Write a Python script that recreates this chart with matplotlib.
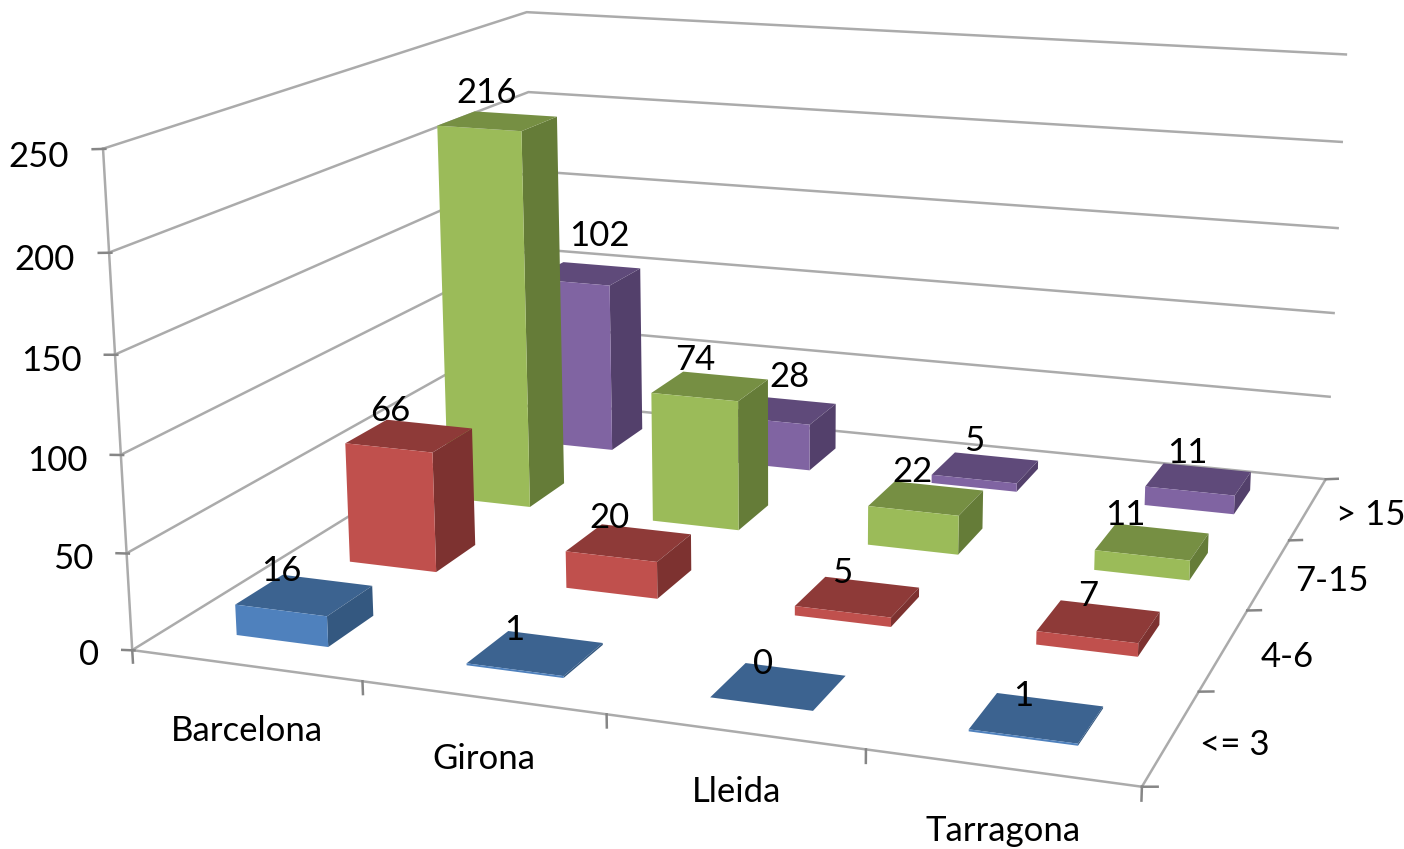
import numpy as np
import matplotlib
matplotlib.use("Agg")
import matplotlib.pyplot as plt
from mpl_toolkits.mplot3d import proj3d

plt.rcParams['font.family'] = ['Lato', 'DejaVu Sans']

regions = ["Barcelona", "Girona", "Lleida", "Tarragona"]
groups = ["<= 3", "4-6", "7-15", "> 15"]
le3 = [16, 1, 0, 1]
g4_6 = [66, 20, 5, 7]
g7_15 = [216, 74, 22, 11]
gt15 = [102, 28, 5, 11]
z_ticks = [0, 50, 100, 150, 200, 250]

W, H = 1404, 849
fig = plt.figure(figsize=(W / 100, H / 100), dpi=100)
# camera fitted against the box corners of the reference
ax = fig.add_axes([80.4 / W, -183.1 / H, 1363.6 / W, 1363.6 / H], projection='3d')
ax.set_axis_off()
ax.set_xlim(0, 4)
ax.set_ylim(0, 4)
ax.set_zlim(0, 250)
ax.computed_zorder = False
ax.view_init(elev=14.3006, azim=-70.3793, roll=0.0241)
ax.set_proj_type('persp', focal_length=0.399)
ax.set_box_aspect((2.0187, 1.9208, 1))
M = ax.get_proj()


def put(x, y, z, s, dx=0, dy=0, **kw):
    # text at a 3d point, nudged in pixels (dy is downwards)
    u, v, _ = proj3d.proj_transform(x, y, z, M)
    ax.annotate(s, (u, v), xytext=(dx * 0.72, -dy * 0.72), textcoords='offset points',
                annotation_clip=False, fontsize=25, color='black', zorder=100, **kw)


# walls and floor
grid = '#ababab'
tick = '#868686'
for z in z_ticks:
    if z > 0:
        ax.plot([0, 0, 4], [0, 4, 4], [z, z, z], color=grid, lw=1.8, zorder=1)
    ax.plot([-0.045, 0.01], [0, 0], [z - 0.6, z], color=tick, lw=1.8, zorder=2)
ax.plot([0, 0, 4, 4, 0, 0], [4, 0, 0, 4, 4, 4], [0, 0, 0, 0, 0, 0], color=grid, lw=1.8, zorder=1)
ax.plot([0, 0], [0, 0], [0, 250], color=grid, lw=1.8, zorder=1)
for i in range(5):
    ax.plot([i, i], [0, 0], [0, -6.5], color=tick, lw=1.8, zorder=2)
    ax.plot([4, 4.055], [i, i], [0, 1], color=tick, lw=1.8, zorder=2)

series = [le3, g4_6, g7_15, gt15]
front = ['#4F81BD', '#C0504D', '#9BBB59', '#8064A2']
top = ['#3C6390', '#8E3A38', '#768F43', '#5F4A7A']
side = ['#345880', '#7D3230', '#657C38', '#53406B']
none = (0, 0, 0, 0)
# pixel nudges of the value labels, per series and region
nudge = [[(0, 6), (3, 8), (9, 9), (13, 10)],
         [(3, 4), (3, 5), (8, 6), (14, 5)],
         [(10, 0), (6, 2), (8, 3), (-4, 2)],
         [(33, -10), (27, -6), (9, 1), (10, 2)]]
region_nudge = [(-10, 0), (-8, -5), (-4, -8), (-2, -7)]
bwx, bwy = 0.405, 0.40
zo = 10
for j in [3, 2, 1, 0]:
    for i in range(4):
        v = series[j][i]
        cols = [none, top[j], front[j], none, none, side[j]]
        ax.bar3d(i + 0.5 - bwx / 2, j + 0.5 - bwy / 2, 0, bwx, bwy, v, color=cols, shade=False,
                 zorder=zo, linewidth=0)
        zo += 1
        put(i + 0.4, j + 0.5, v + 6, str(v), nudge[j][i][0], nudge[j][i][1], ha='center', va='bottom')

for z in z_ticks:
    put(-0.15, 0, z - 5, str(z), ha='right', va='center')
for i, name in enumerate(regions):
    put(0.87 + 0.933 * i, -0.6, 0, name, region_nudge[i][0], region_nudge[i][1], ha='center', va='center')
for j, name in enumerate(groups):
    put(4.23 + 0.017 * j, j + 0.5, 0, name, ha='center', va='center')

fig.savefig('out.png', dpi=100)
